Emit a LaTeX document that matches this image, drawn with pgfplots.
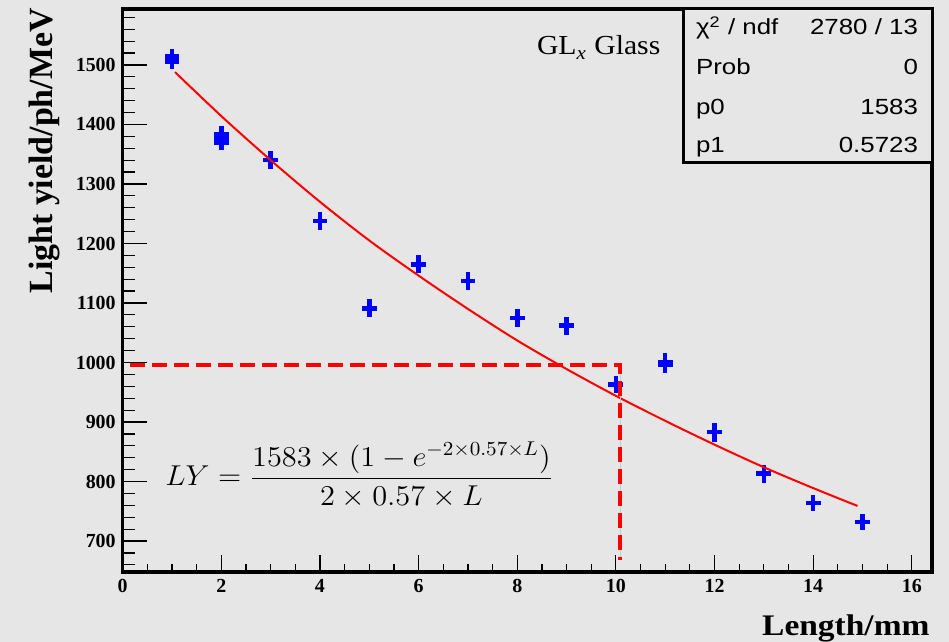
\documentclass[border=0pt]{standalone}
\usepackage{pgfplots}
\pgfplotsset{compat=1.18}
\usepackage{fontspec}
\setmainfont{Liberation Serif}
\newfontfamily\statfont{Liberation Sans}
\definecolor{bg}{RGB}{230,230,230}
\definecolor{ltcyan}{RGB}{160,220,230}

\pgfplotstableread{
x  y    ey
1  1506 13.5
1  1510 13.5
1  1514 13.5
2  1370 13
2  1377 13
2  1384 13
3  1340 15
4  1238 15
5  1091 15
6  1165 15
7  1137 15
8  1075 15
9  1062 15
10 963  15
11 997  15
11 1001 15
12 883  16
13 813  15
14 764  14
15 732  14
}\datatable

\begin{document}
\begin{tikzpicture}
\fill[bg] (0,0) rectangle (474.5bp,321bp);
\useasboundingbox (0,0) rectangle (474.5bp,321bp);
\begin{axis}[
  at={(61.35bp,35bp)}, anchor=south west,
  scale only axis, width=404.65bp, height=281.5bp,
  xmin=0, xmax=16.41, ymin=648, ymax=1594,
  axis line style={line width=1.6bp},
  xtick={0,2,...,16}, ytick={700,800,...,1500},
  minor xtick={0.5,1,...,16},
  minor ytick={660,680,...,1580},
  tick align=inside, xtick pos=bottom, ytick pos=left,
  major tick length=12bp, minor tick length=6bp,
  tick style={black, line width=0.6bp},
  xtick style={/pgfplots/major tick length=8.5bp, /pgfplots/minor tick length=4bp},
  ticklabel style={font=\bfseries\fontsize{10}{10}\selectfont},
  /pgf/number format/assume math mode=true,
  /pgf/number format/set thousands separator={},
  clip=false,
]
\addplot[draw=none, mark=none,
  error bars/.cd, x dir=both, x fixed=0.15, y dir=both, y explicit,
  error mark=none, error bar style={draw=blue, line width=2.3bp}]
  table[x=x, y=y, y error=ey] {\datatable};
\addplot[red, line width=1bp, smooth, mark=none] coordinates {
(1.06,1488) (2,1414) (3,1340) (4,1270) (5,1205) (6,1146) (7,1090)
(8,1037) (9,989) (10,944) (11,902) (12,862) (13,824) (14,789) (14.9,759)};
\addplot[ltcyan, line width=0.6bp, mark=none] coordinates {(10.1,996) (10.1,668)};
\addplot[red, line width=2bp, mark=none, dash pattern=on 7.5bp off 3.5bp] coordinates {(0.15,996) (10.09,996) (10.09,668)};
\end{axis}
% axis titles
\node[rotate=90, anchor=base east, inner sep=0, font=\bfseries\fontsize{17}{17}\selectfont] at (26bp,317bp) {Light yield/ph/MeV};
\node[anchor=base east, inner sep=0, xscale=1.12, font=\bfseries\fontsize{15}{15}\selectfont] at (465bp,3.5bp) {Length/mm};
% label
\node[anchor=base west, inner sep=0, xscale=1.08, font=\fontsize{13.8}{14}\selectfont] at (268.3bp,293.5bp) {GL\textsubscript{\itshape x} Glass};
% formula
\node[anchor=base west, inner sep=0, xscale=1.06, font=\fontsize{14.5}{15}\selectfont] at (82.5bp,78.2bp) {$\displaystyle LY=\frac{1583\times(1-e^{-2\times0.57\times L})}{2\times0.57\times L}$};
% stats box
\draw[line width=1.5bp, fill=bg] (341.5bp,239.5bp) rectangle (466bp,316.5bp);
\begin{scope}[every node/.style={inner sep=0, xscale=1.18, font=\statfont\fontsize{11}{11}\selectfont}]
\node[anchor=base west] at (347.8bp,303.5bp) {χ\textsuperscript{2} / ndf};
\node[anchor=base east] at (459.2bp,303.5bp) {2780 / 13};
\node[anchor=base west] at (347.8bp,283.5bp) {Prob};
\node[anchor=base east] at (459.2bp,283.5bp) {0};
\node[anchor=base west] at (347.8bp,263.9bp) {p0};
\node[anchor=base east] at (459.2bp,263.9bp) {1583};
\node[anchor=base west] at (347.8bp,244.7bp) {p1};
\node[anchor=base east] at (459.2bp,244.7bp) {0.5723};
\end{scope}
\end{tikzpicture}
\end{document}
